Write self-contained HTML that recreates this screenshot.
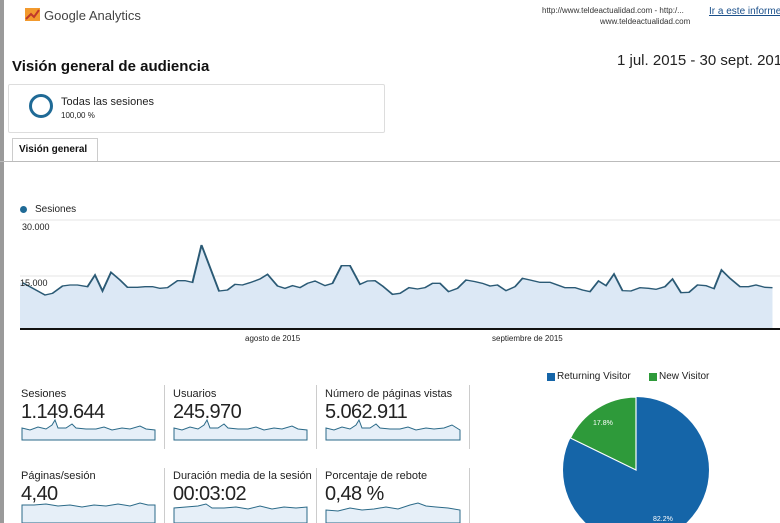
<!DOCTYPE html>
<html><head><meta charset="utf-8"><style>
body{margin:0;width:780px;height:523px;overflow:hidden;background:#fff;font-family:"Liberation Sans",Arial,sans-serif;position:relative;color:#222}
.a{position:absolute;white-space:nowrap}
.lab{font-size:11px;color:#222}
.num{font-size:20px;color:#222;letter-spacing:-0.6px}
.div{position:absolute;width:1px;background:#ccc}
</style></head><body>
<div class="a" style="left:0;top:0;width:4px;height:523px;background:#9a9a9a"></div>
<div class="a" style="left:25px;top:8px;width:15px;height:13px;background:#f29a2e"></div>
<svg class="a" style="left:25px;top:8px" width="15" height="13"><polyline points="1,11 6,6 9,9 14,2" stroke="#c0392b" stroke-width="2" fill="none"/></svg>
<div class="a" style="left:44px;top:8px;font-size:13px;color:#444">Google Analytics</div>
<div class="a" style="left:542px;top:6px;font-size:8px;color:#333">http://www.teldeactualidad.com - http:/...</div>
<div class="a" style="left:600px;top:17px;font-size:8px;color:#333">www.teldeactualidad.com</div>
<div class="a" style="left:709px;top:6px;font-size:10px;color:#1a4f8a;text-decoration:underline">Ir a este informe</div>
<div class="a" style="left:617px;top:52px;font-size:15px;color:#222">1 jul. 2015 - 30 sept. 2015</div>
<div class="a" style="left:12px;top:58px;font-size:15px;font-weight:bold;color:#111">Visión general de audiencia</div>
<div class="a" style="left:8px;top:84px;width:375px;height:47px;border:1px solid #ddd;border-radius:2px"></div>
<div class="a" style="left:29px;top:94px;width:18px;height:18px;border:3px solid #1f6a96;border-radius:50%"></div>
<div class="a" style="left:61px;top:96px;font-size:11px;color:#222">Todas las sesiones</div>
<div class="a" style="left:61px;top:111px;font-size:8px;color:#222">100,00 %</div>
<div class="a" style="left:12px;top:138px;width:84px;height:23px;border:1px solid #ccc;border-bottom:none;background:#fff"></div>
<div class="a" style="left:19px;top:144px;font-size:10px;font-weight:bold;color:#111">Visión general</div>
<div class="a" style="left:0;top:161px;width:780px;height:1px;background:#bbb"></div>
<div class="a" style="left:20px;top:206px;width:7px;height:7px;border-radius:50%;background:#1f6a96"></div>
<div class="a" style="left:35px;top:204px;font-size:10px;color:#222">Sesiones</div>
<div class="a" style="left:22px;top:222px;font-size:9px;color:#222">30.000</div>
<svg class="a" style="left:0;top:0" width="780" height="523">
<line x1="20" y1="220" x2="780" y2="220" stroke="#e5e5e5"/>
<line x1="20" y1="276" x2="780" y2="276" stroke="#e5e5e5"/>
<g transform="translate(0,200) scale(0.5,0.33333)">
<polygon fill="#dce8f5" points="40,385 40,248 45,248 90,285 105,280 125,258 140,255 155,255 175,260 190,225 205,273 222,217 240,240 255,262 275,262 290,260 305,260 320,265 335,263 355,242 370,242 385,247 403,135 438,273 455,270 470,253 485,255 500,248 520,237 535,223 555,258 570,265 585,257 600,263 615,250 630,243 650,257 665,250 683,197 700,197 720,253 735,243 750,242 765,258 785,283 800,280 818,263 835,267 850,263 865,250 880,250 897,275 915,265 932,240 950,245 965,250 980,258 995,255 1012,272 1030,260 1045,235 1060,240 1080,247 1100,247 1115,255 1130,263 1150,263 1165,270 1180,275 1197,243 1212,257 1228,222 1245,272 1262,273 1280,263 1297,265 1312,268 1330,260 1345,237 1362,278 1378,277 1395,255 1412,257 1428,266 1443,210 1460,235 1480,260 1497,260 1512,255 1530,262 1545,263 1545,385"/>
<polyline fill="none" stroke="#2b5a75" stroke-width="4" points="45,248 90,285 105,280 125,258 140,255 155,255 175,260 190,225 205,273 222,217 240,240 255,262 275,262 290,260 305,260 320,265 335,263 355,242 370,242 385,247 403,135 438,273 455,270 470,253 485,255 500,248 520,237 535,223 555,258 570,265 585,257 600,263 615,250 630,243 650,257 665,250 683,197 700,197 720,253 735,243 750,242 765,258 785,283 800,280 818,263 835,267 850,263 865,250 880,250 897,275 915,265 932,240 950,245 965,250 980,258 995,255 1012,272 1030,260 1045,235 1060,240 1080,247 1100,247 1115,255 1130,263 1150,263 1165,270 1180,275 1197,243 1212,257 1228,222 1245,272 1262,273 1280,263 1297,265 1312,268 1330,260 1345,237 1362,278 1378,277 1395,255 1412,257 1428,266 1443,210 1460,235 1480,260 1497,260 1512,255 1530,262 1545,263"/>
</g>
<rect x="20" y="328" width="760" height="2" fill="#111"/>
<g fill="#e6eff8" stroke="#2b6a88" stroke-width="1">
<path d="M22,432 L22,428 30,430 38,427 46,429 52,425 55,420 58,428 66,428 72,424 76,428 86,429 96,429 104,427 112,430 122,428 130,429 140,426 146,429 155,430 L155,440 L22,440Z"/>
<path d="M174,432 L174,428 182,430 190,427 198,429 204,425 207,420 210,428 218,428 224,424 228,428 238,429 248,429 256,427 264,430 274,428 282,429 292,426 298,429 307,430 L307,440 L174,440Z"/>
<path d="M326,432 L326,428 334,430 342,427 350,429 356,425 359,420 362,428 370,428 376,424 380,428 390,429 400,429 408,427 416,430 426,428 434,429 444,428 452,425 460,430 L460,440 L326,440Z"/>
<path d="M22,508 L22,505 34,505 46,504 58,506 70,505 82,507 94,505 106,506 118,504 130,506 140,503 148,505 155,505 L155,523 L22,523Z"/>
<path d="M174,510 L174,508 186,507 198,506 206,504 212,508 224,508 236,507 248,509 260,506 272,509 284,507 296,508 307,507 L307,523 L174,523Z"/>
<path d="M326,512 L326,510 338,511 350,508 362,510 374,509 386,507 398,509 410,505 418,503 426,506 436,507 448,508 460,510 L460,523 L326,523Z"/>
</g>
<circle cx="636" cy="470" r="73" fill="#1565a8"/>
<path d="M636,470 L636,397 A73,73 0 0 0 570.4,438 Z" fill="#2e9a3a" stroke="#fff" stroke-width="1.2"/>
<text x="593" y="425" font-size="7" fill="#fff" font-family="Liberation Sans">17.8%</text>
<text x="653" y="521" font-size="7" fill="#fff" font-family="Liberation Sans">82.2%</text>
</svg>
<div class="a" style="left:20px;top:278px;font-size:9px;color:#222">15.000</div>
<div class="a" style="left:245px;top:334px;font-size:8px;color:#222">agosto de 2015</div>
<div class="a" style="left:492px;top:334px;font-size:8px;color:#222">septiembre de 2015</div>
<div class="div" style="left:164px;top:385px;height:64px"></div>
<div class="div" style="left:316px;top:385px;height:64px"></div>
<div class="div" style="left:469px;top:385px;height:64px"></div>
<div class="div" style="left:164px;top:468px;height:55px"></div>
<div class="div" style="left:316px;top:468px;height:55px"></div>
<div class="div" style="left:469px;top:468px;height:55px"></div>
<div class="a lab" style="left:21px;top:388px">Sesiones</div>
<div class="a num" style="left:21px;top:401px">1.149.644</div>
<div class="a lab" style="left:173px;top:388px">Usuarios</div>
<div class="a num" style="left:173px;top:401px">245.970</div>
<div class="a lab" style="left:325px;top:388px">Número de páginas vistas</div>
<div class="a num" style="left:325px;top:401px">5.062.911</div>
<div class="a lab" style="left:21px;top:470px">Páginas/sesión</div>
<div class="a num" style="left:21px;top:483px">4,40</div>
<div class="a lab" style="left:173px;top:470px">Duración media de la sesión</div>
<div class="a num" style="left:173px;top:483px">00:03:02</div>
<div class="a lab" style="left:325px;top:470px">Porcentaje de rebote</div>
<div class="a num" style="left:325px;top:483px">0,48 %</div>
<div class="a" style="left:547px;top:373px;width:8px;height:8px;background:#1565a8"></div>
<div class="a" style="left:557px;top:371px;font-size:10px">Returning Visitor</div>
<div class="a" style="left:649px;top:373px;width:8px;height:8px;background:#2e9a3a"></div>
<div class="a" style="left:659px;top:371px;font-size:10px">New Visitor</div>
</body></html>
